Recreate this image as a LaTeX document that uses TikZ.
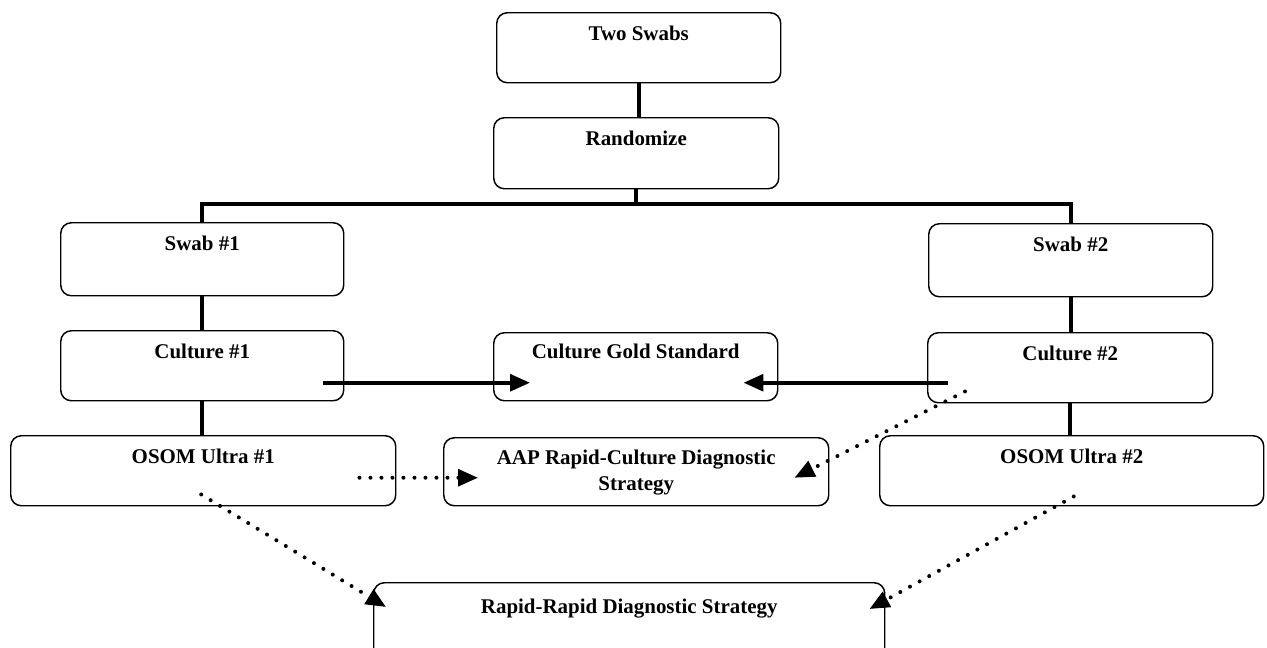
\documentclass[tikz,border=0pt]{standalone}
\usepackage{fontspec}
\setmainfont{Liberation Serif}
\usetikzlibrary{arrows.meta}
\begin{document}
\begin{tikzpicture}[x=0.75pt,y=-0.75pt,
  box/.style={draw=black, line width=1.1pt, rounded corners=8pt, inner xsep=0pt, inner ysep=0pt,
    anchor=north west, text height=21pt, font=\bfseries\fontsize{15.7}{19.5}\selectfont},
  conn/.style={line width=3pt},
  arr/.style={line width=3pt, -{Triangle[length=15pt,width=12.5pt]}},
  dotarr/.style={line width=3pt, line cap=round, dash pattern=on 0pt off 8.25pt,
    -{Triangle[length=15pt,width=12.5pt]}}]
\useasboundingbox (0,0) rectangle (1267,647);
\clip (0,0) rectangle (1267,647);

\node[box, minimum width=213pt, text depth=31.5pt] (two) at (496,12) {Two Swabs};
\node[box, minimum width=213.75pt, text depth=32.25pt] (rand) at (493,117) {Randomize};
\node[box, minimum width=212.25pt, text depth=33.75pt] (swab1) at (60,222) {Swab \#1};
\node[box, minimum width=213pt, text depth=33.75pt] (swab2) at (928,223) {Swab \#2};
\node[box, minimum width=212.25pt, text depth=31.5pt] (cul1) at (60,330) {Culture \#1};
\node[box, minimum width=213pt, text height=19.5pt, text depth=31.5pt] (cgs) at (493,332) {Culture Gold Standard};
\node[box, minimum width=213.75pt, text depth=31.5pt] (cul2) at (927,332) {Culture \#2};
\node[box, minimum width=288.75pt, text depth=31.5pt] (osom1) at (10,435) {OSOM Ultra \#1};
\node[box, minimum width=288.75pt, text height=20.25pt, text depth=30.75pt] (aap) at (443,437)
  {\begin{tabular}[t]{@{}c@{}}AAP Rapid-Culture Diagnostic\\Strategy\end{tabular}};
\node[box, minimum width=288pt, text depth=31.5pt] (osom2) at (879,435) {OSOM Ultra \#2};
\node[box, minimum width=383.25pt, text height=23.25pt, text depth=42.75pt] (rr) at (373,582) {Rapid-Rapid Diagnostic Strategy};

% tree connectors
\draw[conn] (two.south) -- (two.south |- rand.north);
\path (rand.south) ++(0,15) coordinate (split);
\draw[conn] (rand.south) -- (split);
\draw[conn] (swab1.north) |- (split) -| (swab2.north);
\draw[conn] (swab1.south) -- (swab1.south |- cul1.north);
\draw[conn] (cul1.south) -- (cul1.south |- osom1.north);
\draw[conn] (swab2.south) -- (swab2.south |- cul2.north);
\draw[conn] (cul2.south) -- (cul2.south |- osom2.north);

% solid arrows
\draw[arr] ([shift={(-21,17)}]cul1.east) -- ([shift={(37,16)}]cgs.west);
\draw[arr] ([shift={(21,15)}]cul2.west) -- ([shift={(-35,16)}]cgs.east);

% dotted arrows
\draw[dotarr] ([shift={(-37,7)}]osom1.east) -- ([shift={(35,6)}]aap.west);
\draw[dotarr] ([shift={(38,-12)}]cul2.south west) -- ([shift={(-35,6)}]aap.east);
\draw[dotarr] ([shift={(-2,-12)}]osom1.south) -- ([shift={(13,25)}]rr.north west);
\draw[dotarr] ([shift={(2,-10)}]osom2.south) -- ([shift={(-16,27)}]rr.north east);
\end{tikzpicture}
\end{document}
